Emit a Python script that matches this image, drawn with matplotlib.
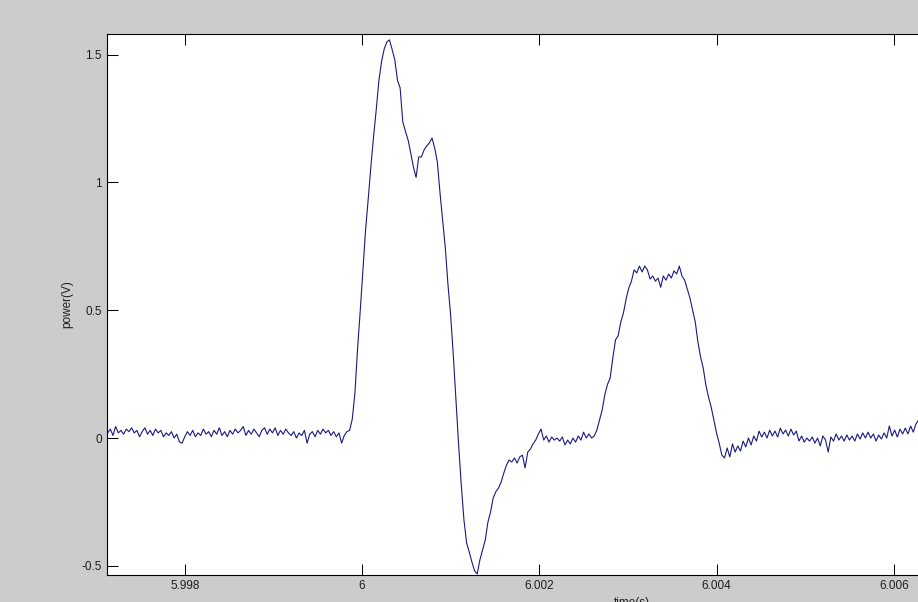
import numpy as np
import matplotlib.pyplot as plt

t_start = 5.99713
t_step = 0.00003
power = [
    0.02, 0.035, 0.01, 0.045, 0.02, 0.03, 0.015, 0.035, 0.025, 0.04,
    0.02, 0.03, 0.005, 0.025, 0.04, 0.015, 0.03, 0.01, 0.035, 0.02,
    0.03, 0.005, 0.02, 0.01, 0.025, 0.0, 0.015, -0.015, -0.02, 0.005,
    0.025, 0.01, 0.03, 0.005, 0.02, 0.01, 0.035, 0.015, 0.025, 0.005,
    0.03, 0.015, 0.04, 0.01, 0.025, 0.005, 0.03, 0.015, 0.035, 0.02,
    0.03, 0.045, 0.01, 0.03, 0.015, 0.035, 0.02, 0.005, 0.03, 0.04,
    0.015, 0.035, 0.02, 0.04, 0.01, 0.03, 0.015, 0.035, 0.02, 0.01,
    0.025, 0.0, 0.02, 0.01, 0.03, -0.02, 0.015, 0.025, 0.005, 0.03,
    0.015, 0.035, 0.02, 0.03, 0.01, 0.025, 0.005, 0.02, -0.02, 0.01,
    0.025, 0.03, 0.074, 0.176, 0.35, 0.498, 0.654, 0.814, 0.935, 1.062,
    1.178, 1.283, 1.397, 1.472, 1.522, 1.55, 1.558, 1.52, 1.48, 1.40,
    1.37, 1.237, 1.20, 1.166, 1.115, 1.06, 1.02, 1.10, 1.10, 1.127,
    1.143, 1.155, 1.174, 1.135, 1.08, 0.959, 0.85, 0.744, 0.60, 0.48,
    0.325, 0.15, -0.027, -0.184, -0.32, -0.41, -0.446, -0.485, -0.52, -0.532,
    -0.477, -0.438, -0.40, -0.33, -0.29, -0.235, -0.21, -0.196, -0.172, -0.137,
    -0.106, -0.086, -0.094, -0.078, -0.098, -0.074, -0.067, -0.117, -0.055, -0.043,
    -0.023, -0.008, 0.016, 0.035, -0.008, 0.008, -0.016, 0.004, -0.008, 0.0,
    -0.012, 0.004, -0.027, -0.008, -0.023, 0.0, -0.016, 0.008, -0.008, 0.023,
    0.0, 0.016, 0.0, 0.008, 0.031, 0.07, 0.11, 0.17, 0.21, 0.235,
    0.313, 0.384, 0.40, 0.454, 0.49, 0.544, 0.587, 0.614, 0.658, 0.646,
    0.673, 0.65, 0.673, 0.658, 0.622, 0.634, 0.614, 0.626, 0.59, 0.634,
    0.618, 0.642, 0.626, 0.654, 0.642, 0.673, 0.634, 0.618, 0.583, 0.548,
    0.50, 0.454, 0.376, 0.317, 0.274, 0.207, 0.16, 0.121, 0.07, 0.02,
    -0.02, -0.067, -0.078, -0.039, -0.074, -0.023, -0.055, -0.031, -0.051, -0.012,
    -0.035, 0.0, -0.027, 0.008, -0.012, 0.027, 0.004, 0.023, 0.0, 0.031,
    0.008, 0.027, 0.004, 0.039, 0.016, 0.031, 0.008, 0.035, 0.012, 0.027,
    -0.012, 0.008, -0.016, 0.0, -0.012, 0.004, -0.02, 0.0, -0.031, 0.008,
    -0.008, -0.055, 0.004, -0.012, 0.016, -0.008, 0.008, -0.012, 0.012, -0.008,
    0.008, -0.012, 0.016, -0.004, 0.02, 0.0, 0.023, 0.0, 0.016, -0.012,
    0.012, -0.004, 0.02, 0.0, 0.047, 0.008, 0.031, 0.004, 0.035, 0.016,
    0.039, 0.016, 0.047, 0.023, 0.055, 0.07,
]
time = t_start + t_step * np.arange(len(power))

x_ticks = [5.998, 6.0, 6.002, 6.004, 6.006]
x_tick_labels = ['5.998', '6', '6.002', '6.004', '6.006']
y_ticks = [-0.5, 0, 0.5, 1, 1.5]
y_tick_labels = ['-0.5', '0', '0.5', '1', '1.5']

plt.rcParams['font.family'] = ['Liberation Sans', 'DejaVu Sans']

fig = plt.figure(figsize=(9.18, 6.02), dpi=100, facecolor='#cccccc')
# the axes run past the right edge of the window, as in the screenshot
ax = fig.add_axes([106.5 / 918, 27 / 602, 1050.5 / 918, 541 / 602])
ax.set_facecolor('white')

ax.plot(time, power, color='#1a1a80', lw=0.8)

ax.set_xlim(5.997117, 6.00897)
ax.set_ylim(-0.536, 1.581)
ax.set_xticks(x_ticks)
ax.set_xticklabels(x_tick_labels)
ax.set_yticks(y_ticks)
ax.set_yticklabels(y_tick_labels)
ax.tick_params(which='both', direction='in', top=True, right=True,
               length=7.6, width=0.75, labelsize=8.5, pad=3.5,
               labelcolor='#1e1e1e')
for s in ax.spines.values():
    s.set_linewidth(0.8)
    s.set_color('black')

ax.set_xlabel('time(s)', fontsize=8.5, color='#1e1e1e')
ax.xaxis.set_label_coords(0.5, -0.0407)
ax.set_ylabel('power(V)', fontsize=8.5, color='#1e1e1e', va='center')
ax.yaxis.set_label_coords(-0.0376, 0.5)

fig.savefig('out.png', dpi=100, facecolor=fig.get_facecolor())
